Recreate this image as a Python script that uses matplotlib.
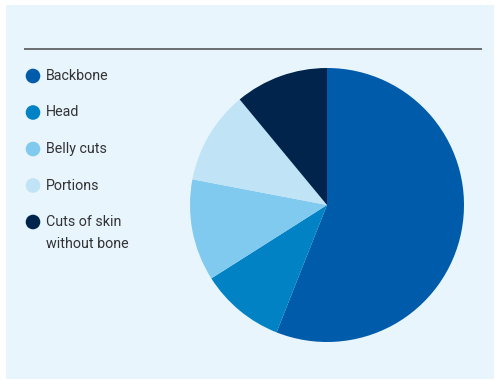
import matplotlib
matplotlib.use("Agg")
import matplotlib.pyplot as plt
from matplotlib.patches import Rectangle, Circle

categories = ["Backbone", "Head", "Belly cuts", "Portions", "Cuts of skin\nwithout bone"]
shares = [56, 10, 12, 11, 11]
colors = ["#005BAA", "#0082C4", "#80CAEF", "#C1E3F6", "#00244B"]

W, H = 495, 380
fig = plt.figure(figsize=(W / 100, H / 100), dpi=100, facecolor="white")

# overlay axes in pixel coordinates for the panel, rule and legend
bg = fig.add_axes([0, 0, 1, 1])
bg.set_xlim(0, W)
bg.set_ylim(H, 0)
bg.axis("off")
bg.add_patch(Rectangle((6, 5), 488, 374, facecolor="#E8F5FC", edgecolor="none"))
bg.plot([24, 482], [49, 49], color="#55575A", lw=1.2, solid_capstyle="butt")

# pie
cx, cy, r = 327, 205, 137
pax = fig.add_axes([(cx - r) / W, (H - cy - r) / H, 2 * r / W, 2 * r / H])
pax.pie(shares, colors=colors, startangle=90, counterclock=False, radius=1,
        wedgeprops=dict(linewidth=0))
pax.set_xlim(-1, 1)
pax.set_ylim(-1, 1)
pax.set_aspect("auto")
pax.axis("off")

# legend: colour dot followed by the label (second line indented under the first)
y0, dy = 76, 36.5
for i, (lab, col) in enumerate(zip(categories, colors)):
    y = y0 + i * dy
    bg.add_patch(Circle((33, y), 7.3, facecolor=col, edgecolor="none"))
    for j, ln in enumerate(lab.split("\n")):
        bg.text(45.5, y + j * 22, ln, fontsize=10.3, family="Roboto",
                color="#333335", va="center", ha="left")

fig.savefig("out.png", dpi=100, facecolor="white")
